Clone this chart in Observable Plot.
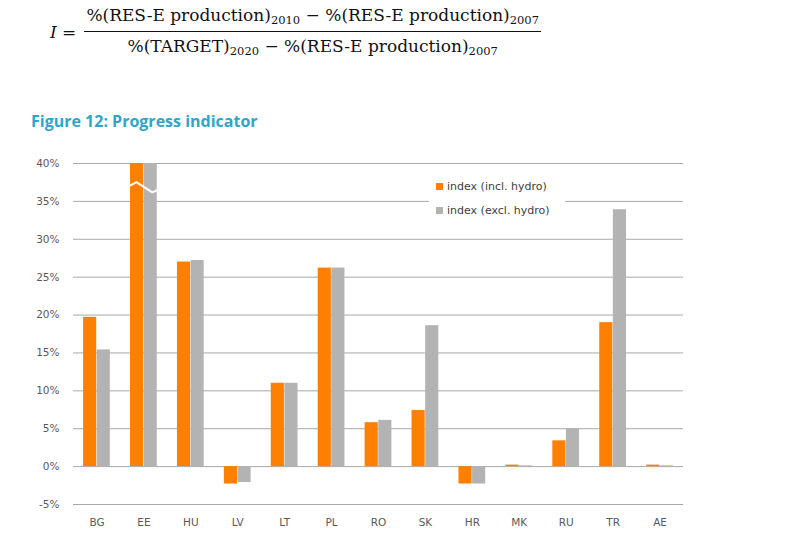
<!DOCTYPE html>
<html>
<head>
<meta charset="utf-8">
<script src="https://cdn.jsdelivr.net/npm/d3@7"></script>
<script src="https://cdn.jsdelivr.net/npm/@observablehq/plot@0.6"></script>
<style>
  html, body { margin: 0; padding: 0; background: #fff; }
  #root { position: relative; width: 787px; height: 546px; overflow: hidden; background: #fff; }
  #formula { position: absolute; left: 50px; top: 5px; display: flex; align-items: center;
    font-family: "DejaVu Serif", "Liberation Serif", serif; font-size: 17px; color: #111; }
  #formula .lhs { margin-right: 8px; }
  #formula .frac { display: inline-flex; flex-direction: column; align-items: stretch; text-align: center; }
  #formula .num { border-bottom: 1px solid #111; padding: 0 2px 4px 2px; }
  #formula .den { padding: 4px 2px 0 2px; }
  #formula sub { font-size: 11.5px; vertical-align: -3px; }
  #title { position: absolute; left: 31px; top: 110px; font-family: "Open Sans", Lato, sans-serif;
    font-weight: bold; font-size: 16px; color: #31a4c9; }
  #chart { position: absolute; left: 0; top: 140px; }
  #legend { position: absolute; left: 429px; top: 177px; width: 136px; height: 44px; background: #fff;
    font-family: "DejaVu Sans", Verdana, sans-serif; font-size: 11px; color: #404040; }
  #legend .item { position: absolute; left: 7px; display: flex; align-items: center; }
  #legend .sw { width: 7px; height: 7px; margin-right: 4px; }
</style>
</head>
<body>
<div id="root">
  <div id="formula">
    <span class="lhs"><i>I</i> =</span>
    <div class="frac">
      <div class="num">%(RES-E production)<sub>2010</sub> − %(RES-E production)<sub>2007</sub></div>
      <div class="den">%(TARGET)<sub>2020</sub> − %(RES-E production)<sub>2007</sub></div>
    </div>
  </div>
  <div id="title">Figure 12: Progress indicator</div>
  <div id="chart"></div>
  <div id="legend"></div>
</div>
<script>
// Data (values in %)
const countries = ["BG","EE","HU","LV","LT","PL","RO","SK","HR","MK","RU","TR","AE"];
const inclHydro = [19.7, 40, 27.0, -2.3, 11.0, 26.2, 5.8, 7.4, -2.3, 0.2, 3.4, 19.0, 0.2];
const exclHydro = [15.4, 40, 27.2, -2.1, 11.0, 26.2, 6.1, 18.6, -2.3, 0.1, 5.0, 33.9, 0.1];
const seriesNames = ["index (incl. hydro)", "index (excl. hydro)"];
const seriesColors = ["#ff8000", "#b3b3b3"];
const yTicks = [-5, 0, 5, 10, 15, 20, 25, 30, 35, 40];
// axis-break marker drawn over the truncated EE bars (offsets relative to EE, values in %)
const breakCountry = "EE";
const breakDx = [-0.285, -0.16, 0.18, 0.285];
const breakY = [37.1, 37.55, 36.2, 36.5];

const rows = [];
countries.forEach((c, i) => {
  rows.push({i, country: c, series: seriesNames[0], value: inclHydro[i], x1: i - 0.285, x2: i - 0.005});
  rows.push({i, country: c, series: seriesNames[1], value: exclHydro[i], x1: i + 0.005, x2: i + 0.285});
});
const bi = countries.indexOf(breakCountry);
const breakPts = breakDx.map((d, k) => ({x: bi + d, y: breakY[k]}));

const font = "'DejaVu Sans', Verdana, sans-serif";
const chart = Plot.plot({
  width: 787,
  height: 394,
  marginLeft: 73,
  marginRight: 104,
  marginTop: 23,
  marginBottom: 30,
  style: {fontFamily: font, fontSize: "10.5px", color: "#595959", background: "transparent"},
  x: {domain: [-0.5, countries.length - 0.5]},
  y: {domain: [-5, 40]},
  color: {domain: seriesNames, range: seriesColors},
  marks: [
    Plot.gridY(yTicks, {stroke: "#a8a8a8", strokeOpacity: 1, strokeWidth: 1}),
    Plot.rect(rows, {x1: "x1", x2: "x2", y1: 0, y2: "value", fill: "series"}),
    Plot.line(breakPts, {x: "x", y: "y", stroke: "#fff", strokeWidth: 2}),
    Plot.axisY(yTicks, {tickSize: 0, tickPadding: 14, tickFormat: d => d + "%", label: null, fill: "#595959", fontSize: 10.5}),
    Plot.axisX(d3.range(countries.length), {tickSize: 0, tickPadding: 14, tickFormat: i => countries[i], label: null, fill: "#595959", fontSize: 10.5})
  ]
});
document.getElementById("chart").appendChild(chart);

const legend = document.getElementById("legend");
seriesNames.forEach((name, k) => {
  const item = document.createElement("div");
  item.className = "item";
  item.style.top = (3 + k * 24) + "px";
  item.innerHTML = `<span class="sw" style="background:${seriesColors[k]}"></span><span>${name}</span>`;
  legend.appendChild(item);
});
</script>
</body>
</html>
